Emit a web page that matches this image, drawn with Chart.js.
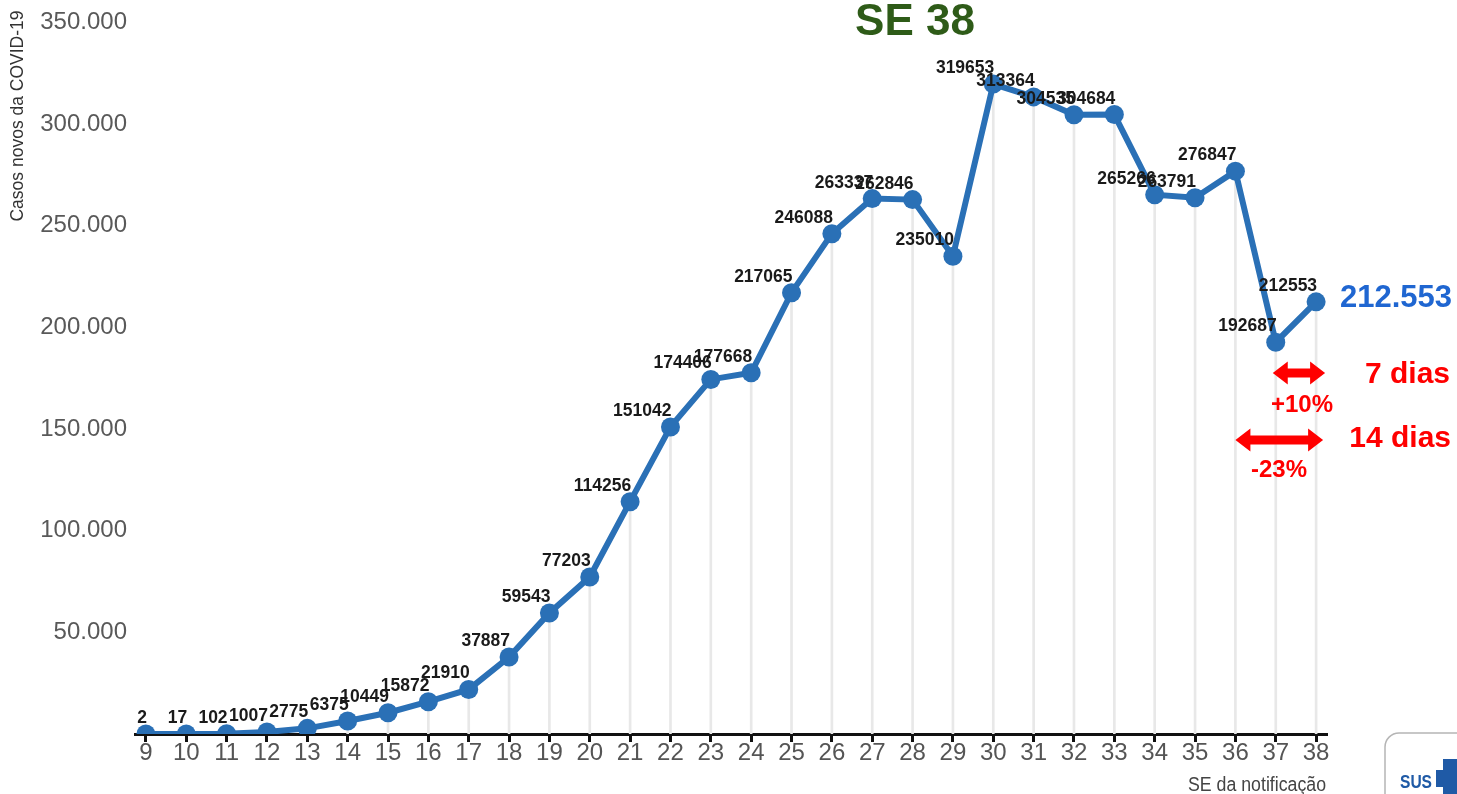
<!DOCTYPE html>
<html>
<head>
<meta charset="utf-8">
<title>Casos novos da COVID-19 por SE</title>
<script src="https://cdn.jsdelivr.net/npm/chart.js@4.4.0/dist/chart.umd.min.js"></script>
<style>
  html, body { margin: 0; padding: 0; background: #fff; }
  #wrap { width: 1457px; height: 794px; position: relative; }
</style>
</head>
<body>
<div id="wrap"><canvas id="chart" width="1457" height="794"></canvas></div>
<script>
// Semanas epidemiológicas e casos novos
const weeks = [9, 10, 11, 12, 13, 14, 15, 16, 17, 18, 19, 20, 21, 22, 23,
               24, 25, 26, 27, 28, 29, 30, 31, 32, 33, 34, 35, 36, 37, 38];
const cases = [2, 17, 102, 1007, 2775, 6375, 10449, 15872, 21910, 37887,
               59543, 77203, 114256, 151042, 174406, 177668, 217065, 246088, 263337, 262846,
               235010, 319653, 313364, 304535, 304684, 265266, 263791, 276847, 192687, 212553];
const yTickValues = [50000, 100000, 150000, 200000, 250000, 300000, 350000];

const chartTitle = 'SE 38';
const yTitle = 'Casos novos da COVID-19';
const xTitle = 'SE da notificação';
const notes7 = ['7 dias', '+10%'];
const notes14 = ['14 dias', '-23%'];

const FONT = '"Liberation Sans", Arial, sans-serif';
Chart.defaults.font.family = FONT;

function fmt(v) {
    return String(v).replace(/\B(?=(\d{3})+(?!\d))/g, '.');
}

function doubleArrow(ctx, x1, x2, y) {
    const h = 11.5, head = 15, s = 4.5;
    ctx.beginPath();
    ctx.moveTo(x1, y);
    ctx.lineTo(x1 + head, y - h);
    ctx.lineTo(x1 + head, y - s);
    ctx.lineTo(x2 - head, y - s);
    ctx.lineTo(x2 - head, y - h);
    ctx.lineTo(x2, y);
    ctx.lineTo(x2 - head, y + h);
    ctx.lineTo(x2 - head, y + s);
    ctx.lineTo(x1 + head, y + s);
    ctx.lineTo(x1 + head, y + h);
    ctx.closePath();
    ctx.fill();
}

const extras = {
    id: 'extras',
    afterDatasetsDraw(chart) {
        // value labels, right-aligned on each point
        const ctx = chart.ctx;
        const meta = chart.getDatasetMeta(0);
        ctx.save();
        ctx.font = 'bold 17.5px ' + FONT;
        ctx.fillStyle = '#1a1a1a';
        ctx.textAlign = 'right';
        ctx.textBaseline = 'alphabetic';
        meta.data.forEach((pt, i) => {
            ctx.fillText(String(cases[i]), pt.x + 1, pt.y - 11);
        });
        ctx.restore();
    },
    afterDraw(chart) {
        const ctx = chart.ctx;
        const xs = chart.scales.x;
        ctx.save();

        // title
        ctx.font = 'bold 44px ' + FONT;
        ctx.fillStyle = '#2e5b18';
        ctx.textAlign = 'center';
        ctx.textBaseline = 'alphabetic';
        ctx.fillText(chartTitle, 915, 35);

        // y axis title
        ctx.save();
        ctx.translate(18, 116);
        ctx.rotate(-Math.PI / 2);
        ctx.font = '17.5px ' + FONT;
        ctx.fillStyle = '#333';
        ctx.textAlign = 'center';
        ctx.textBaseline = 'middle';
        ctx.fillText(yTitle, 0, 0, 212);
        ctx.restore();

        // x axis title
        ctx.font = '20px ' + FONT;
        ctx.fillStyle = '#444';
        ctx.textAlign = 'right';
        ctx.fillText(xTitle, 1326, 791, 138);

        // last value
        const last = cases[cases.length - 1];
        ctx.font = 'bold 31px ' + FONT;
        ctx.fillStyle = '#1f66d1';
        ctx.textAlign = 'right';
        ctx.fillText(fmt(last), 1452, 307);

        // 7 / 14 day comparisons
        const n = weeks.length;
        ctx.fillStyle = '#ff0000';
        doubleArrow(ctx, xs.getPixelForValue(weeks[n - 2]) - 3, xs.getPixelForValue(weeks[n - 1]) + 9, 373);
        doubleArrow(ctx, xs.getPixelForValue(weeks[n - 3]), xs.getPixelForValue(weeks[n - 1]) + 7, 440);

        ctx.font = 'bold 30px ' + FONT;
        ctx.textAlign = 'right';
        ctx.fillText(notes7[0], 1450, 383);
        ctx.fillText(notes14[0], 1451, 447);
        ctx.font = 'bold 24px ' + FONT;
        ctx.textAlign = 'center';
        ctx.fillText(notes7[1], 1302, 412);
        ctx.fillText(notes14[1], 1279, 477);

        // SUS logo corner
        ctx.strokeStyle = '#b5b5b5';
        ctx.lineWidth = 1.5;
        ctx.beginPath();
        ctx.roundRect(1385, 733, 100, 80, 14);
        ctx.stroke();
        ctx.fillStyle = '#1f5aa6';
        ctx.font = 'bold 19px ' + FONT;
        ctx.textAlign = 'left';
        ctx.fillText('SUS', 1400, 788, 32);
        ctx.fillRect(1443, 759, 14, 35);
        ctx.fillRect(1436, 770, 21, 17);

        ctx.restore();
    }
};

new Chart(document.getElementById('chart'), {
    type: 'line',
    data: {
        datasets: [
            {
                type: 'line',
                data: weeks.map((w, i) => ({ x: w, y: cases[i] })),
                borderColor: '#2a70b6',
                backgroundColor: '#2a70b6',
                borderWidth: 6,
                pointRadius: 9.5,
                pointBorderWidth: 0,
                pointBackgroundColor: '#2a70b6',
                tension: 0,
                clip: { left: 30, right: 30, top: 30, bottom: 0 }
            },
            {
                // thin drop lines under each point
                type: 'bar',
                data: weeks.map((w, i) => ({ x: w, y: cases[i] })),
                backgroundColor: '#e8e8e8',
                barThickness: 2
            }
        ]
    },
    options: {
        responsive: false,
        animation: false,
        layout: { padding: { top: 21, right: 130, left: 0, bottom: 0 } },
        plugins: {
            legend: { display: false },
            tooltip: { enabled: false }
        },
        scales: {
            x: {
                type: 'linear',
                min: 8.73,
                max: 38.27,
                offset: false,
                z: 1,
                afterBuildTicks: s => { s.ticks = weeks.map(v => ({ value: v })); },
                afterFit: s => { s.height = 60; },
                grid: { display: true, offset: false, drawOnChartArea: false, drawTicks: true, tickLength: 8, tickWidth: 3, tickColor: '#111' },
                border: { display: true, color: '#111', width: 3 },
                ticks: { color: '#555', font: { size: 24 }, padding: -3, autoSkip: false, maxRotation: 0 }
            },
            y: {
                min: 0,
                max: 350000,
                afterBuildTicks: s => { s.ticks = yTickValues.map(v => ({ value: v })); },
                afterFit: s => { s.width = 135; },
                grid: { display: false, drawTicks: false },
                border: { display: false },
                ticks: { color: '#595959', font: { size: 24 }, padding: 8, callback: v => fmt(v) }
            }
        }
    },
    plugins: [extras]
});
</script>
</body>
</html>
